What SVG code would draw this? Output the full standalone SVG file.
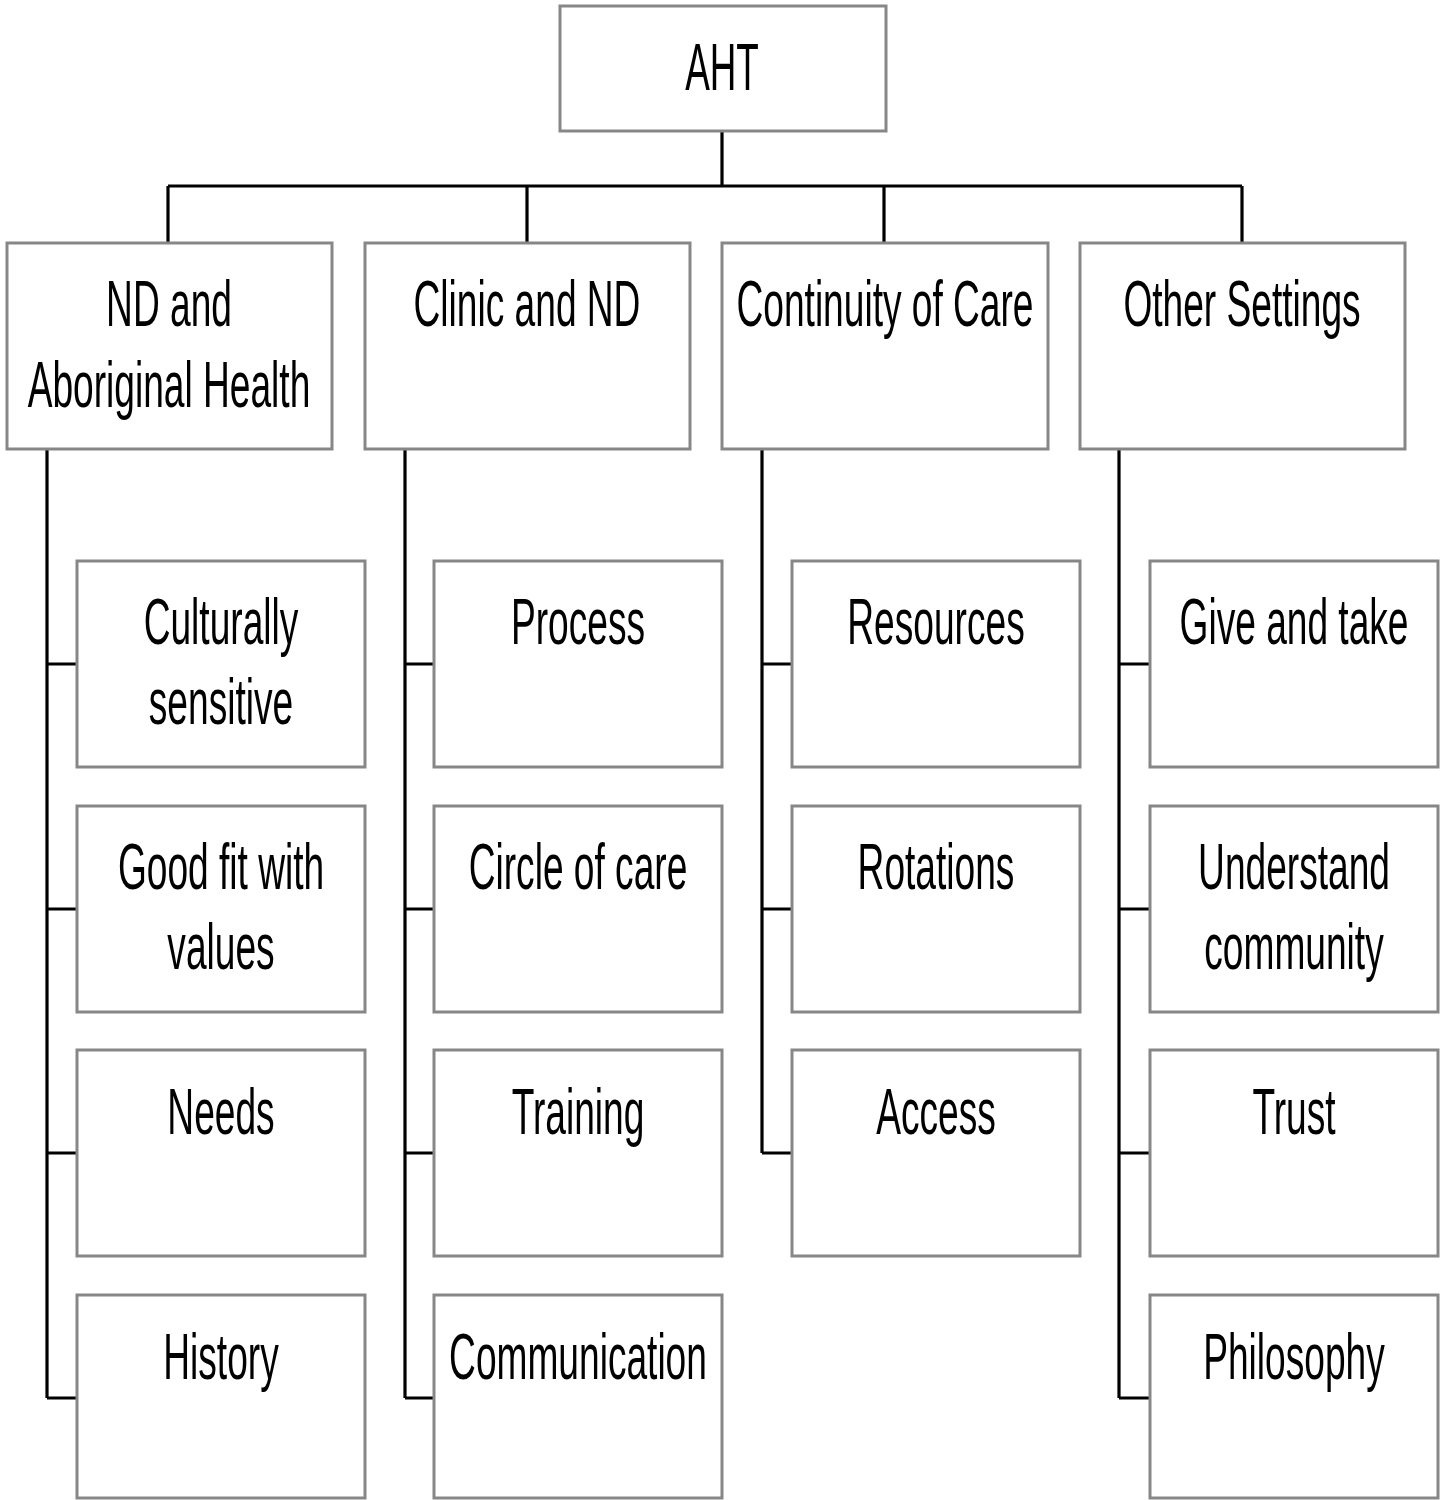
<svg xmlns="http://www.w3.org/2000/svg" width="1443" height="1500" viewBox="0 0 1443 1500">
<style>
.box{fill:#ffffff;stroke:#878787;stroke-width:3}
.t{font-family:"Liberation Sans",Arial,sans-serif;font-size:64px;fill:#000;text-anchor:middle}
.c{fill:none;stroke:#000;stroke-width:3.2}
</style>
<rect width="1443" height="1500" fill="#ffffff"/>
<g id="connectors">
<path class="c" d="M722,131V186M168,186H1242M168,186V243M527,186V243M884,186V243M1242,186V243"/>
<path class="c" d="M47,449V1398M47,664H77M47,909H77M47,1153H77M47,1398H77"/>
<path class="c" d="M405,449V1398M405,664H434M405,909H434M405,1153H434M405,1398H434"/>
<path class="c" d="M762,449V1153M762,664H792M762,909H792M762,1153H792"/>
<path class="c" d="M1119,449V1398M1119,664H1150M1119,909H1150M1119,1153H1150M1119,1398H1150"/>
</g>
<g id="n-aht"><rect class="box" x="560" y="6" width="326" height="125"/><text class="t" style="font-size:67px" transform="translate(722,90) scale(0.55,1)">AHT</text></g>
<g id="n-nd"><rect class="box" x="7" y="243" width="325" height="206"/><text class="t" transform="translate(169,326) scale(0.58,1)">ND and</text><text class="t" transform="translate(169,407) scale(0.58,1)">Aboriginal Health</text></g>
<g id="n-clinic"><rect class="box" x="365" y="243" width="325" height="206"/><text class="t" transform="translate(527,326) scale(0.58,1)">Clinic and ND</text></g>
<g id="n-cont"><rect class="box" x="722" y="243" width="326" height="206"/><text class="t" transform="translate(885,326) scale(0.58,1)">Continuity of Care</text></g>
<g id="n-other"><rect class="box" x="1080" y="243" width="325" height="206"/><text class="t" transform="translate(1242,326) scale(0.58,1)">Other Settings</text></g>

<g id="n-cult"><rect class="box" x="77" y="561" width="288" height="206"/><text class="t" transform="translate(221,644) scale(0.58,1)">Culturally</text><text class="t" transform="translate(221,724) scale(0.58,1)">sensitive</text></g>
<g id="n-goodfit"><rect class="box" x="77" y="806" width="288" height="206"/><text class="t" transform="translate(221,889) scale(0.58,1)">Good fit with</text><text class="t" transform="translate(221,969) scale(0.58,1)">values</text></g>
<g id="n-needs"><rect class="box" x="77" y="1050" width="288" height="206"/><text class="t" transform="translate(221,1134) scale(0.58,1)">Needs</text></g>
<g id="n-history"><rect class="box" x="77" y="1295" width="288" height="203"/><text class="t" transform="translate(221,1379) scale(0.58,1)">History</text></g>

<g id="n-process"><rect class="box" x="434" y="561" width="288" height="206"/><text class="t" transform="translate(578,644) scale(0.58,1)">Process</text></g>
<g id="n-circle"><rect class="box" x="434" y="806" width="288" height="206"/><text class="t" transform="translate(578,889) scale(0.58,1)">Circle of care</text></g>
<g id="n-training"><rect class="box" x="434" y="1050" width="288" height="206"/><text class="t" transform="translate(578,1134) scale(0.58,1)">Training</text></g>
<g id="n-comm"><rect class="box" x="434" y="1295" width="288" height="203"/><text class="t" transform="translate(578,1379) scale(0.58,1)">Communication</text></g>

<g id="n-resources"><rect class="box" x="792" y="561" width="288" height="206"/><text class="t" transform="translate(936,644) scale(0.58,1)">Resources</text></g>
<g id="n-rotations"><rect class="box" x="792" y="806" width="288" height="206"/><text class="t" transform="translate(936,889) scale(0.58,1)">Rotations</text></g>
<g id="n-access"><rect class="box" x="792" y="1050" width="288" height="206"/><text class="t" transform="translate(936,1134) scale(0.58,1)">Access</text></g>

<g id="n-give"><rect class="box" x="1150" y="561" width="288" height="206"/><text class="t" transform="translate(1294,644) scale(0.58,1)">Give and take</text></g>
<g id="n-understand"><rect class="box" x="1150" y="806" width="288" height="206"/><text class="t" transform="translate(1294,889) scale(0.58,1)">Understand</text><text class="t" transform="translate(1294,969) scale(0.58,1)">community</text></g>
<g id="n-trust"><rect class="box" x="1150" y="1050" width="288" height="206"/><text class="t" transform="translate(1294,1134) scale(0.58,1)">Trust</text></g>
<g id="n-philo"><rect class="box" x="1150" y="1295" width="288" height="203"/><text class="t" transform="translate(1294,1379) scale(0.58,1)">Philosophy</text></g>
</svg>
